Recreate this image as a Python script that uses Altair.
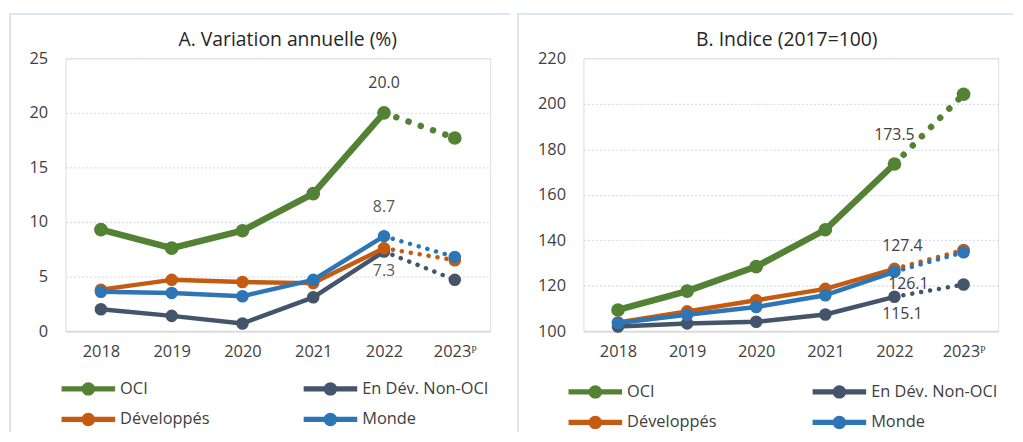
import altair as alt
import pandas as pd

years = ["2018", "2019", "2020", "2021", "2022", "2023ᴾ"]
series = ["OCI", "En Dév. Non-OCI", "Développés", "Monde"]
colors = ["#548235", "#44546A", "#C55A11", "#2E75B6"]

a_oci = [9.3, 7.6, 9.2, 12.6, 20.0, 17.7]
a_non = [2.0, 1.4, 0.7, 3.1, 7.3, 4.7]
a_dev = [3.8, 4.7, 4.5, 4.4, 7.6, 6.5]
a_monde = [3.6, 3.5, 3.2, 4.7, 8.7, 6.8]

b_oci = [109.3, 117.6, 128.4, 144.6, 173.5, 204.2]
b_non = [102.0, 103.4, 104.1, 107.3, 115.1, 120.5]
b_dev = [103.8, 108.7, 113.6, 118.6, 127.4, 135.7]
b_monde = [103.6, 107.2, 110.6, 115.8, 126.1, 134.7]

FONT = "Open Sans"
SYM = ("M-1.227,-0.123L1.227,-0.123L1.227,0.123L-1.227,0.123Z"
       "M0.307,0A0.307,0.307,0,1,1,-0.307,0A0.307,0.307,0,1,1,0.307,0Z")


def long_df(vals):
    rows = []
    for s, v in zip(series, vals):
        for i, (y, val) in enumerate(zip(years, v)):
            rows.append({"year": y, "series": s, "value": val,
                         "solid": i <= 4, "proj": i >= 4})
    return pd.DataFrame(rows)


def panel(vals, ydom, ystep, title, labels, leg_x, leg_y, col_pad, frame_l, frame_r, w, tdx):
    df = long_df(vals)
    xenc = alt.X("year:N", sort=years,
                 scale=alt.Scale(type="point", padding=0.5),
                 axis=alt.Axis(title=None, labelAngle=0, ticks=False,
                               domainColor="#D9D9D9", domainWidth=2,
                               labelPadding=13, labelFontSize=16.5,
                               labelColor="#404040", labelFont=FONT, grid=False))
    yenc = alt.Y("value:Q",
                 scale=alt.Scale(domain=ydom, nice=False, zero=False),
                 axis=alt.Axis(title=None, values=list(range(ydom[0], ydom[1] + 1, ystep)),
                               ticks=False, domain=False, labelPadding=18,
                               labelFontSize=16.5, labelColor="#404040", labelFont=FONT,
                               grid=True, gridColor="#D3DEEF", gridDash=[2, 2],
                               gridWidth=1.3))
    cscale = alt.Scale(domain=series, range=colors)
    leg = alt.Legend(title=None, orient="none", legendX=leg_x, legendY=leg_y,
                     columns=2, symbolType=SYM, symbolSize=1936,
                     symbolStrokeWidth=0, labelFontSize=16.5, labelFont=FONT,
                     labelColor="#404040", labelOffset=10, rowPadding=0,
                     columnPadding=col_pad, direction="horizontal")
    col = alt.Color("series:N", scale=cscale, legend=leg)
    base = alt.Chart(df)
    layers = []
    # frame
    layers.append(base.mark_rule(color="#DCE5F2", strokeWidth=1.2).encode(
        x=alt.value(frame_l), y=alt.value(-45), y2=alt.value(376)))
    layers.append(base.mark_rule(color="#DCE5F2", strokeWidth=1.2).encode(
        x=alt.value(frame_l), x2=alt.value(frame_r), y=alt.value(-45)))
    for s in series:
        lw = 6.5 if s == "OCI" else 4.5
        sz = 190 if s == "OCI" else 160
        sub = base.transform_filter(alt.datum.series == s)
        layers.append(sub.transform_filter(alt.datum.solid).mark_line(
            strokeWidth=lw, strokeCap="round", strokeJoin="round").encode(
            x=xenc, y=yenc, color=col))
        layers.append(sub.transform_filter(alt.datum.proj).mark_line(
            strokeWidth=lw, strokeCap="round", strokeDash=[0.1, 2 * lw]).encode(
            x=xenc, y=yenc, color=col))
        layers.append(sub.mark_point(filled=True, opacity=1, size=sz).encode(
            x=xenc, y=yenc, color=col))
    for (s, yr, txt, dx, dy, tc) in labels:
        layers.append(base.transform_filter(
            (alt.datum.series == s) & (alt.datum.year == yr)).mark_text(
            dx=dx, dy=dy, fontSize=16, font=FONT, color=tc).encode(
            x=xenc, y=yenc, text=alt.value(txt)))
    return alt.layer(*layers).properties(
        width=w, height=275,
        title=alt.Title(title, fontSize=19.5, font=FONT, color="#262626",
                        fontWeight="normal", offset=-38, anchor="middle", dx=tdx))


pa = panel([a_oci, a_non, a_dev, a_monde], [0, 25], 5, "A. Variation annuelle (%)",
           [("OCI", "2022", "20.0", 0, -30, "#404040"),
            ("Monde", "2022", "8.7", 0, -29, "#595959"),
            ("En Dév. Non-OCI", "2022", "7.3", 0, 20, "#595959")],
           1, 311, 94, -56, 448, 428, 10)
pb = panel([b_oci, b_non, b_dev, b_monde], [100, 220], 20, "B. Indice (2017=100)",
           [("OCI", "2022", "173.5", 0, -29, "#404040"),
            ("Développés", "2022", "127.4", 8, -23, "#404040"),
            ("Monde", "2022", "126.1", 14, 12, "#404040"),
            ("En Dév. Non-OCI", "2022", "115.1", 8, 17, "#404040")],
           -10, 314, 96, -66, 433, 418, -4)

chart = alt.hconcat(pa, pb, spacing=4).resolve_scale(color="independent").resolve_legend(
    color="independent").properties(
    padding={"top": 2, "left": 0, "right": 0, "bottom": 0}
).configure_view(stroke=None).configure(background="white")

chart.save("out.html", embed_options={"renderer": "svg", "actions": False})
